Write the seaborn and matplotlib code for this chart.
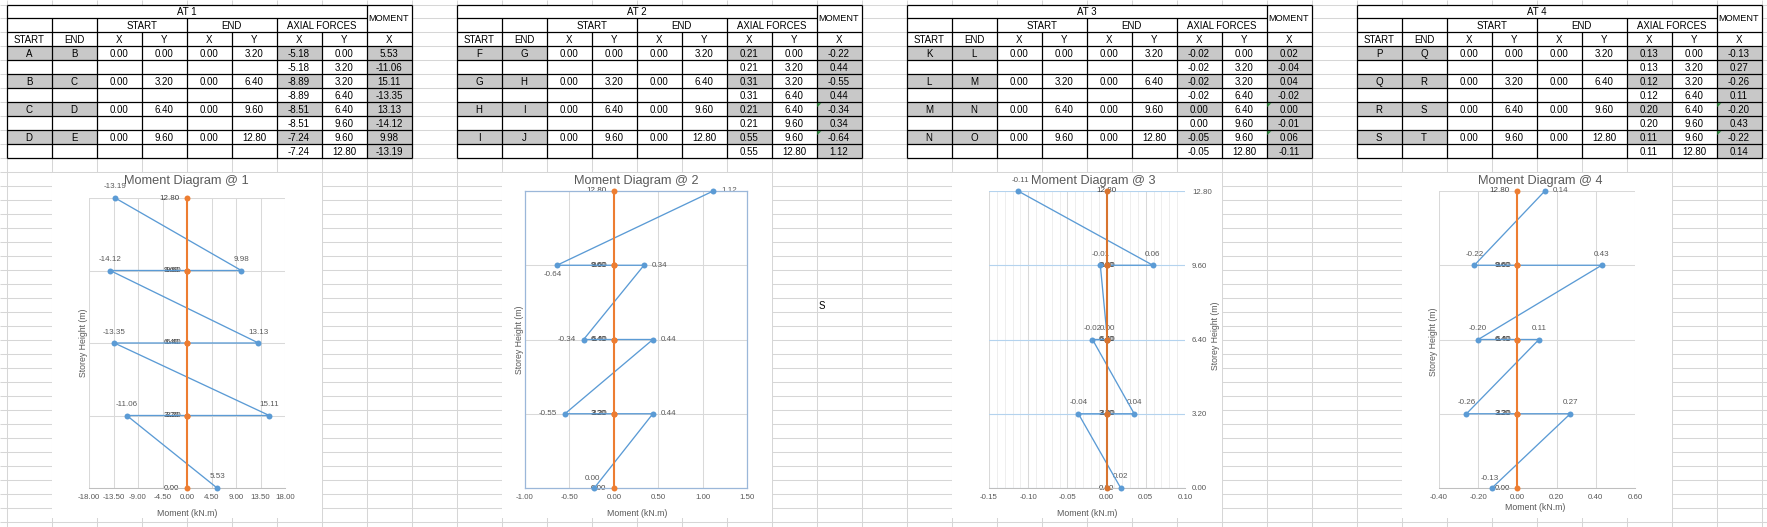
import numpy as np
import pandas as pd
import matplotlib
matplotlib.use("Agg")
import matplotlib.pyplot as plt
from matplotlib.patches import Rectangle, Polygon
from matplotlib.ticker import FormatStrFormatter
import seaborn as sns

sns.set_theme(style="white")
plt.rcParams['font.family'] = ['Liberation Sans', 'DejaVu Sans']

# ------------------------------------------------------------------ data
table_titles = ["AT 1", "AT 2", "AT 3", "AT 4"]
chart_titles = ["Moment Diagram @ 1", "Moment Diagram @ 2", "Moment Diagram @ 3", "Moment Diagram @ 4"]
member_start = [["A", "B", "C", "D"], ["F", "G", "H", "I"], ["K", "L", "M", "N"], ["P", "Q", "R", "S"]]
member_end = [["B", "C", "D", "E"], ["G", "H", "I", "J"], ["L", "M", "N", "O"], ["Q", "R", "S", "T"]]
start_x = [0.00, 0.00, 0.00, 0.00]
start_y = [0.00, 3.20, 6.40, 9.60]
end_x = [0.00, 0.00, 0.00, 0.00]
end_y = [3.20, 6.40, 9.60, 12.80]
axial_at1 = [-5.18, -8.89, -8.51, -7.24]
axial_at2 = [0.21, 0.31, 0.21, 0.55]
axial_at3 = [-0.02, -0.02, 0.00, -0.05]
axial_at4 = [0.13, 0.12, 0.20, 0.11]
storey_y = [0.00, 3.20, 3.20, 6.40, 6.40, 9.60, 9.60, 12.80]
column_x = [0.00, 0.00, 0.00, 0.00, 0.00, 0.00, 0.00, 0.00]
moment_at1 = [5.53, -11.06, 15.11, -13.35, 13.13, -14.12, 9.98, -13.19]
moment_at2 = [-0.22, 0.44, -0.55, 0.44, -0.34, 0.34, -0.64, 1.12]
moment_at3 = [0.018, -0.036, 0.0352, -0.018, 0.001, -0.008, 0.059, -0.113]
moment_at4 = [-0.13, 0.27, -0.26, 0.11, -0.20, 0.43, -0.22, 0.14]
chart2_first_label = "0.00"
cell_note = "S"

axials = [axial_at1, axial_at2, axial_at3, axial_at4]
moments = [moment_at1, moment_at2, moment_at3, moment_at4]

# ------------------------------------------------------------------ layout / style
W, H, DPI = 1767, 527, 100
BLUE, ORANGE = '#5B9BD5', '#ED7D31'
TXT = '#595959'
GRID = '#D6D6D6'
CELL_GRAY = '#C8C8C8'

fig = plt.figure(figsize=(W / DPI, H / DPI), dpi=DPI)
fig.patch.set_facecolor('white')
ax_bg = fig.add_axes([0, 0, 1, 1], zorder=0)
ax_bg.set_xlim(0, W)
ax_bg.set_ylim(H, 0)
ax_bg.axis('off')

X0, CW = 6.5, 45.0
Y0, RH = 4.5, 13.98

# spreadsheet gridlines
ax_bg.vlines([X0 + CW * k for k in range(-1, 41)], 0, H, color=GRID, lw=0.75, zorder=0)
ax_bg.hlines([Y0 + RH * k for k in range(-1, 39)], 0, W, color=GRID, lw=0.75, zorder=0)

# chart areas (white)
for k in (1, 11, 21, 31):
    top = Y0 + RH * 12 + 0.6
    ax_bg.add_patch(Rectangle((X0 + CW * k + 0.6, top), CW * 6 - 0.6, 518 - top,
                              facecolor='white', edgecolor='none', zorder=1))

TFONT = dict(fontsize=7.0, color='black', family=['Liberation Sans', 'DejaVu Sans'])


def fmt(v):
    s = f"{v:.2f}"
    return "0.00" if s == "-0.00" else s


def draw_table(t):
    left = X0 + CW * 10 * t
    xs = [left + CW * c for c in range(10)]
    ys = [Y0 + RH * r for r in range(12)]
    ax_bg.add_patch(Rectangle((xs[0], ys[0]), xs[9] - xs[0], ys[11] - ys[0],
                              facecolor='white', edgecolor='none', zorder=1))

    def fill(r, c):
        ax_bg.add_patch(Rectangle((xs[c], ys[r]), CW, RH, facecolor=CELL_GRAY,
                                  edgecolor='none', zorder=1.5))

    for j in range(4):
        r = 3 + 2 * j
        for c in (0, 1, 6, 8):
            fill(r, c)
        fill(r + 1, 8)

    lw = 0.9
    kw = dict(color='black', lw=lw, zorder=2)
    ax_bg.hlines([ys[0]] + ys[2:], xs[0], xs[9], **kw)
    ax_bg.hlines([ys[1]], xs[0], xs[8], **kw)
    ax_bg.vlines([xs[0], xs[8], xs[9]], ys[0], ys[11], **kw)
    ax_bg.vlines([xs[1], xs[2], xs[4], xs[6]], ys[1], ys[11], **kw)
    ax_bg.vlines([xs[3], xs[5], xs[7]], ys[2], ys[11], **kw)

    def cell_text(s, xc, yc, **extra):
        ax_bg.text(xc, yc + 0.5, s, ha='center', va='center', zorder=3, **{**TFONT, **extra})

    cx = lambda c: xs[c] + CW / 2
    cy = lambda r: ys[r] + RH / 2
    cell_text(table_titles[t], xs[4], cy(0))
    cell_text("MOMENT", cx(8), ys[1], fontsize=6.6)
    cell_text("START", xs[3], cy(1))
    cell_text("END", xs[5], cy(1))
    cell_text("AXIAL FORCES", xs[7], cy(1), fontsize=6.9)
    for c, s in enumerate(["START", "END", "X", "Y", "X", "Y", "X", "Y", "X"]):
        cell_text(s, cx(c), cy(2))
    for j in range(4):
        r = 3 + 2 * j
        row = [member_start[t][j], member_end[t][j], fmt(start_x[j]), fmt(start_y[j]),
               fmt(end_x[j]), fmt(end_y[j]), fmt(axials[t][j]), fmt(storey_y[2 * j]),
               fmt(moments[t][2 * j])]
        for c, s in enumerate(row):
            cell_text(s, cx(c), cy(r))
        row2 = [fmt(axials[t][j]), fmt(storey_y[2 * j + 1]), fmt(moments[t][2 * j + 1])]
        for c, s in zip((6, 7, 8), row2):
            cell_text(s, cx(c), cy(r + 1))
    if t > 0:
        for r in (7, 9):
            x, y = xs[8] + 0.8, ys[r] + 0.8
            ax_bg.add_patch(Polygon([(x, y), (x + 4, y), (x, y + 4)], closed=True,
                                    facecolor='#2E8B3E', edgecolor='none', zorder=2.5))


for t in range(4):
    draw_table(t)

# stray cell text
ax_bg.text(X0 + CW * 18 + 2.5, Y0 + RH * 21 + RH / 2 + 0.5, cell_note, ha='left', va='center',
           zorder=3, **TFONT)

# ------------------------------------------------------------------ charts
charts = [
    dict(box=(89, 198, 285, 488), xlim=(-18, 18), step=4.5, title=(186, 181),
         xlab=(187, 513), ylab=(83, 343),
         place=["above"] * 8, oplace="left"),
    dict(box=(525, 191, 747, 488), xlim=(-1.0, 1.5), step=0.5, title=(636, 181),
         xlab=(637, 513), ylab=(520, 340),
         place=["above", "right", "left", "right", "left", "right", "below", "right"], oplace="left"),
    dict(box=(989, 191, 1185, 488), xlim=(-0.15, 0.10), step=0.05, title=(1093, 181),
         xlab=(1087, 513), ylab=(1215, 336),
         place=["above"] * 8, oplace="center"),
    dict(box=(1439, 191, 1635, 488), xlim=(-0.4, 0.6), step=0.2, title=(1540, 181),
         xlab=(1535, 508), ylab=(1433, 342),
         place=["above"] * 7 + ["right"], oplace="left"),
]

OFFS = {"above": (0, 11, 'center'), "right": (8, 0, 'left'), "left": (-8, 0, 'right'),
        "below": (-4, -9.5, 'center')}

for i, cfg in enumerate(charts):
    x0, y0, x1, y1 = cfg['box']
    ax = fig.add_axes([x0 / W, 1 - y1 / H, (x1 - x0) / W, (y1 - y0) / H], zorder=3)
    ax.set_facecolor('white')

    def fx(px):
        return (px - x0) / (x1 - x0)

    def fy(py):
        return (y1 - py) / (y1 - y0)

    m = moments[i]
    df_m = pd.DataFrame({"Moment": m, "Height": storey_y})
    df_c = pd.DataFrame({"Moment": column_x, "Height": storey_y})
    sns.lineplot(data=df_m, x="Moment", y="Height", sort=False, estimator=None, ax=ax,
                 color=BLUE, lw=0.95, marker='o', markersize=4.3, markeredgewidth=0, zorder=3,
                 clip_on=False)
    ocol = '#D8742F' if i == 2 else ORANGE
    sns.lineplot(data=df_c, x="Moment", y="Height", sort=False, estimator=None, ax=ax,
                 color=ocol, lw=1.5, marker='o', markersize=4.3, markeredgewidth=0, zorder=4,
                 clip_on=False)

    lo, hi = cfg['xlim']
    step = cfg['step']
    ax.set_xlim(lo, hi)
    ax.set_ylim(0, 12.8)
    xt = np.round(np.arange(lo, hi + step / 2, step), 6) + 0.0
    ax.set_xticks(xt)
    ax.xaxis.set_major_formatter(FormatStrFormatter('%.2f'))
    ax.set_yticks(sorted(set(storey_y)))
    ax.tick_params(axis='both', length=0, labelsize=5.7, labelcolor=TXT)
    ax.tick_params(axis='x', pad=4.5)
    ax.grid(True, which='major', color='#D9D9D9', lw=0.75)
    ax.set_axisbelow(True)

    for s in ax.spines.values():
        s.set_visible(False)
    if i == 1:
        for s in ax.spines.values():
            s.set_visible(True)
            s.set_color('#9BB7D9')
            s.set_linewidth(0.9)
    else:
        ax.spines['bottom'].set_visible(True)
        ax.spines['bottom'].set_color('#BFBFBF')
        ax.spines['bottom'].set_linewidth(0.75)

    if i == 2:
        ax.yaxis.tick_right()
        ax.yaxis.set_label_position('right')
        ax.yaxis.set_major_formatter(FormatStrFormatter('%.2f'))
        ax.tick_params(axis='y', pad=5)
        ax.set_xticks(np.round(np.arange(lo, hi + 0.005, 0.01), 6), minor=True)
        ax.tick_params(axis='x', which='minor', length=0)
        ax.grid(True, which='minor', axis='x', color='#EBEBEB', lw=0.6)
        ax.grid(True, which='major', axis='y', color='#B4D3EE', lw=0.8)
    else:
        ax.tick_params(axis='y', labelleft=False, labelright=False)

    ax.set_title(chart_titles[i], x=fx(cfg['title'][0]), y=fy(cfg['title'][1]), pad=0,
                 va='center', ha='center', fontsize=9.2, color=TXT)
    ax.set_xlabel("Moment (kN.m)", fontsize=6.3, color=TXT)
    ax.xaxis.set_label_coords(fx(cfg['xlab'][0]), fy(cfg['xlab'][1]))
    ax.xaxis.label.set_va('center')
    ax.set_ylabel("Storey Height (m)", fontsize=6.3, color=TXT)
    ax.yaxis.set_label_coords(fx(cfg['ylab'][0]), fy(cfg['ylab'][1]))
    ax.yaxis.label.set_va('center')
    ax.yaxis.label.set_ha('center')

    # blue data labels
    for k, (mv, hv) in enumerate(zip(m, storey_y)):
        dx, dy, ha = OFFS[cfg['place'][k]]
        txt = fmt(mv)
        if i == 1 and k == 0:
            txt = chart2_first_label
            dx, dy = -2, 10
        if i == 2 and k == 7:
            dx = 2
        if i == 3 and k == 0:
            dx, dy = -2, 10
        ax.annotate(txt, (mv, hv), xytext=(dx, dy), textcoords='offset pixels', ha=ha,
                    va='center', fontsize=5.8, color=TXT, annotation_clip=False, zorder=2.5)
    # orange data labels
    prev = None
    for k, (cxv, hv) in enumerate(zip(column_x, storey_y)):
        shift = 1.3 if prev == hv else 0.0
        prev = hv
        if cfg['oplace'] == 'left':
            dx, ha = -7.5 + shift, 'right'
        else:
            dx, ha = shift, 'center'
        ax.annotate(fmt(hv), (cxv, hv), xytext=(dx, 0), textcoords='offset pixels', ha=ha,
                    va='center', fontsize=5.8, color='#404040', annotation_clip=False, zorder=2.5)

fig.savefig("out.png", dpi=DPI, facecolor='white')
